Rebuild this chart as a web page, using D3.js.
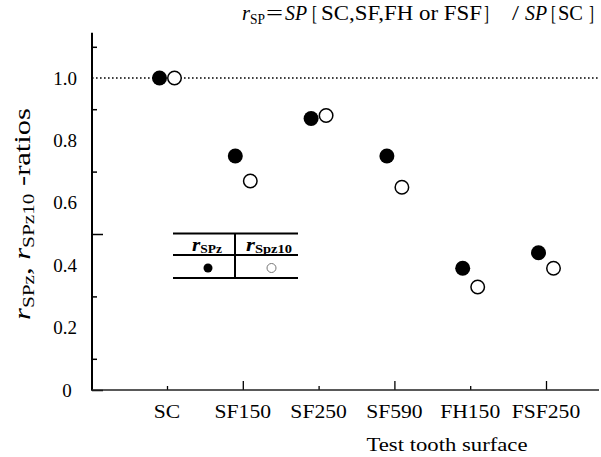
<!DOCTYPE html>
<html><head><meta charset="utf-8">
<script src="https://cdn.jsdelivr.net/npm/d3@7"></script>
</head><body style="margin:0;background:#fff">
<svg id="c" width="601" height="457"></svg>
<script>
const categories = ["SC","SF150","SF250","SF590","FH150","FSF250"];
const rSPz   = [1.00,0.75,0.87,0.75,0.39,0.44];
const rSPz10 = [1.00,0.67,0.88,0.65,0.33,0.39];
const yTickLabels = [0,0.2,0.4,0.6,0.8,1.0];
const yTickMarks = [0,0.1,0.3,0.5,0.7,0.9,1.1];
const refLine = 1.0;

const FONT = '"Liberation Serif"';
const svg = d3.select("#c");
const x = d3.scalePoint().domain(categories).range([167,546]);
const y = d3.scaleLinear().domain([0,1]).range([390,78]);
const axX = 92, yTop = 1.145;

function T(parent){ return parent.append("text").attr("font-family",FONT); }
function widen(sel,k){ sel.each(function(){ const L=this.getComputedTextLength();
  d3.select(this).attr("textLength",L*k).attr("lengthAdjust","spacingAndGlyphs"); }); }
function fit(sel,w){ sel.attr("textLength",w).attr("lengthAdjust","spacingAndGlyphs"); }

// reference dotted line
svg.append("line").attr("x1",axX).attr("x2",598).attr("y1",y(refLine)).attr("y2",y(refLine))
  .attr("stroke","#000").attr("stroke-width",1.3).attr("stroke-dasharray","1.6,2.4");

// y axis ticks (inward)
const ga = svg.append("g").attr("transform",`translate(${axX},0)`)
  .call(d3.axisRight(y).tickValues(yTickMarks).tickSize(5).tickFormat(""));
ga.select(".domain").remove();
ga.selectAll(".tick line").attr("stroke","#000").attr("stroke-width",1.5)
  .attr("x2",d=> (d===0.5||d===0)?11:5);
// x axis ticks (inward)
const gx = svg.append("g").attr("transform",`translate(0,${y(0)})`)
  .call(d3.axisTop(x).tickSize(4).tickFormat(""));
gx.select(".domain").remove();
gx.selectAll(".tick line").attr("stroke","#000").attr("stroke-width",1.3)
  .attr("y2",(d,i)=> i%2===1?-9:-4);

// axis lines
svg.append("line").attr("x1",axX).attr("x2",axX).attr("y1",y(yTop)).attr("y2",y(0)+0.75)
  .attr("stroke","#000").attr("stroke-width",2);
svg.append("line").attr("x1",axX).attr("x2",599).attr("y1",y(0)).attr("y2",y(0))
  .attr("stroke","#222").attr("stroke-width",1.6);

// y tick labels
svg.selectAll(".yl").data(yTickLabels).join("text").attr("class","yl").attr("font-family",FONT)
  .attr("x",d=> d===0?67:77).attr("y",d=>y(d)).attr("dy","0.35em")
  .attr("text-anchor",d=> d===0?"middle":"end").attr("font-size",19)
  .text(d=> d===0?"0":d.toFixed(1));

// x tick labels
svg.selectAll(".xl").data(categories).join("text").attr("class","xl").attr("font-family",FONT)
  .attr("x",d=>x(d)).attr("y",418).attr("text-anchor","middle").attr("font-size",18)
  .text(d=>d).call(widen,1.2);

// x axis title
T(svg).attr("x",447).attr("y",451).attr("text-anchor","middle")
  .attr("font-size",19).text("Test tooth surface").call(fit,161);

// y axis title
const yt = T(svg).attr("transform","translate(30,214) rotate(-90)")
  .attr("text-anchor","middle").attr("font-size",23);
yt.append("tspan").attr("font-style","italic").text("r");
yt.append("tspan").attr("font-size",16).attr("dy",4).text("SPz");
yt.append("tspan").attr("dy",-4).text(", ");
yt.append("tspan").attr("font-style","italic").text("r");
yt.append("tspan").attr("font-size",16).attr("dy",4).text("SPz10");
yt.append("tspan").attr("dy",-4).text(" -ratios");
yt.call(fit,212);

// title (pieces laid out left to right)
const titleParts = [
  {t:"r", x:242, w:8, it:true},
  {t:"SP", x:250, w:15, sub:true},
  {t:"=", x:266, w:17},
  {t:"SP", x:285, w:22, it:true},
  {t:"[", x:312, w:5},
  {t:"SC,SF,FH or FSF", x:321, w:161},
  {t:"]", x:484, w:5},
  {t:"/", x:512, w:7},
  {t:"SP", x:525, w:22, it:true},
  {t:"[", x:551, w:5},
  {t:"SC", x:558, w:25},
  {t:"]", x:589, w:5}
];
titleParts.forEach(p=>{
  T(svg).attr("x",p.x).attr("y",p.sub?24:20).attr("font-size",p.sub?14:21)
    .attr("font-style",p.it?"italic":null).text(p.t).call(fit,p.w);
});

// points
const off = 7.5, r = 7.5;
svg.selectAll(".p1").data(categories).join("circle").attr("class","p1")
  .attr("cx",d=>x(d)-off).attr("cy",(d,i)=>y(rSPz[i])).attr("r",r).attr("fill","#000");
svg.selectAll(".p2").data(categories).join("circle").attr("class","p2")
  .attr("cx",d=>x(d)+off).attr("cy",(d,i)=>y(rSPz10[i])).attr("r",r-0.75)
  .attr("fill","#fff").attr("stroke","#000").attr("stroke-width",1.5);

// legend table
const lg = svg.append("g");
[233.5,255,278].forEach(yy=> lg.append("line").attr("x1",173).attr("x2",298).attr("y1",yy).attr("y2",yy)
  .attr("stroke","#000").attr("stroke-width",2));
lg.append("line").attr("x1",235).attr("x2",235).attr("y1",233.5).attr("y2",278).attr("stroke","#000").attr("stroke-width",2);
const h1 = T(lg).attr("x",192).attr("y",251)
  .attr("font-size",19).attr("font-weight","bold");
h1.append("tspan").attr("font-style","italic").text("r");
h1.append("tspan").attr("font-size",12).attr("dy",2).text("SPz");
h1.call(fit,30);
const h2 = T(lg).attr("x",246).attr("y",251)
  .attr("font-size",19).attr("font-weight","bold");
h2.append("tspan").attr("font-style","italic").text("r");
h2.append("tspan").attr("font-size",12).attr("dy",2).text("Spz10");
h2.call(fit,46);
lg.append("circle").attr("cx",208).attr("cy",268).attr("r",4.5).attr("fill","#000");
lg.append("circle").attr("cx",271.5).attr("cy",268).attr("r",4.5).attr("fill","#fff")
  .attr("stroke","#777").attr("stroke-width",1);
</script>
</body></html>
